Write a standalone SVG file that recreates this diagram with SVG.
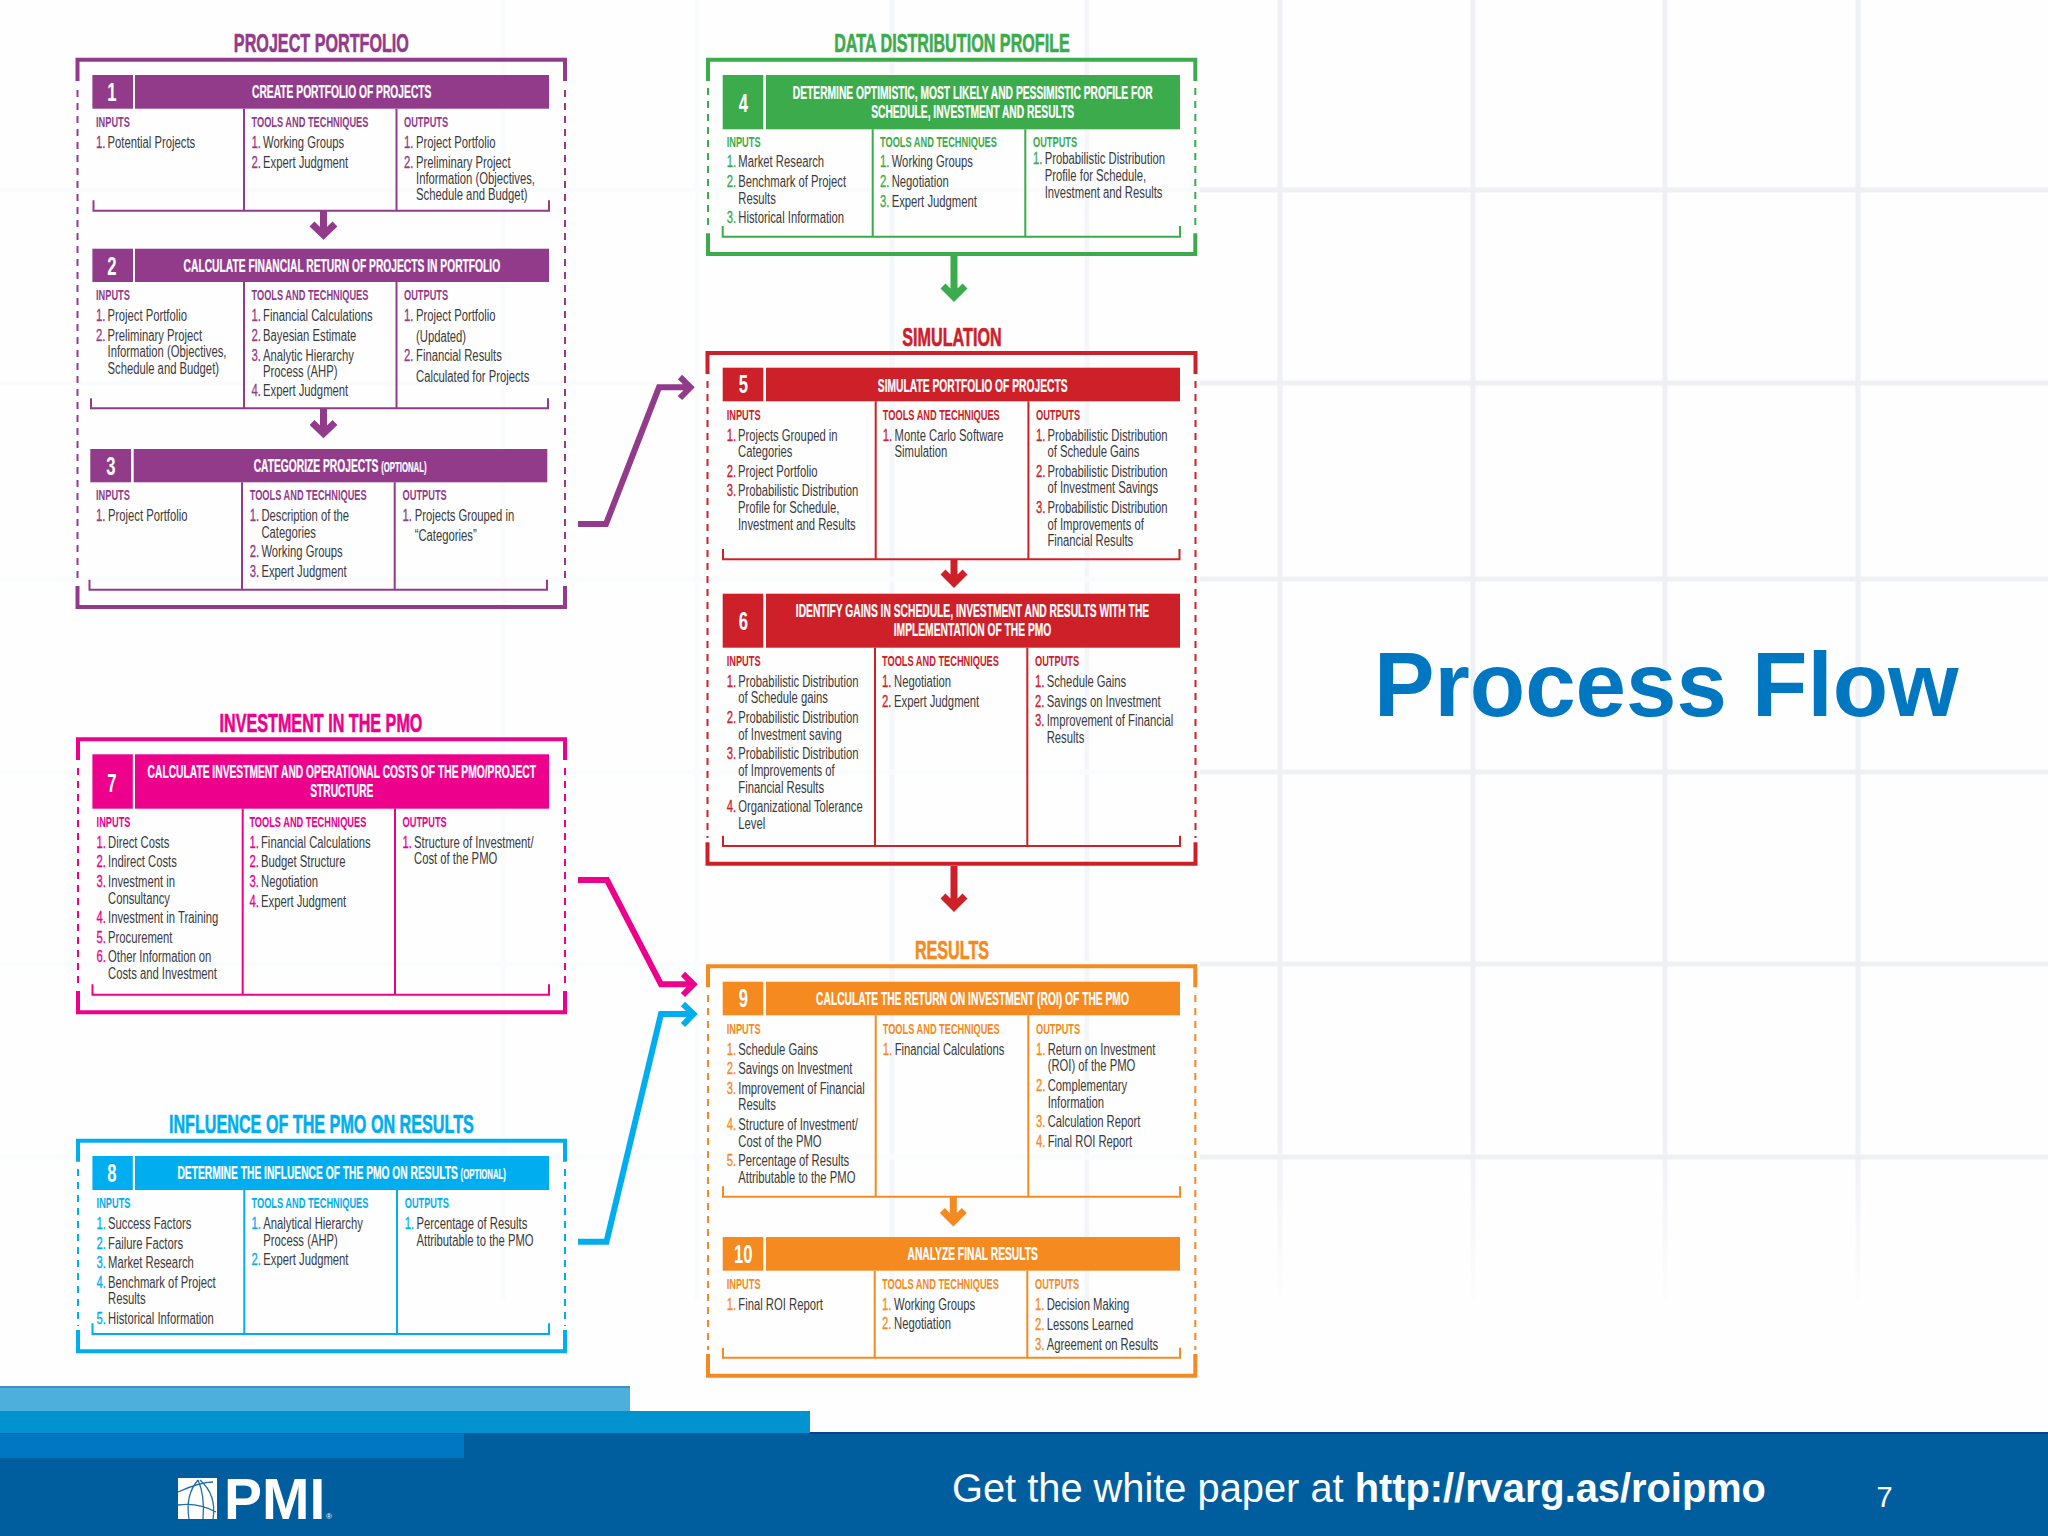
<svg xmlns="http://www.w3.org/2000/svg" width="2048" height="1536" viewBox="0 0 2048 1536">
<style>
text{font-family:"Liberation Sans",Arial,sans-serif;transform-box:fill-box}
.purple{--c:#923b8a}.green{--c:#3cab4b}.red{--c:#cd2029}.pink{--c:#ec008c}.blue{--c:#00aeef}.orange{--c:#f58a20}
.i,.n{font-size:16px;transform-origin:0 50%;transform:scaleX(.705)}
.i{fill:#3a3a3c}.n{fill:var(--c);stroke:var(--c);stroke-width:.3}
.h{font-size:15.4px;font-weight:700;fill:var(--c);transform-origin:0 50%;transform:translateY(-.8px) scaleX(.6)}
.t{font-size:18.5px;font-weight:700;fill:#fff;stroke:#fff;stroke-width:.25;text-anchor:middle;transform-origin:50% 50%;transform:scaleX(.555)}
.g{font-size:26px;font-weight:700;fill:#fff;text-anchor:middle;transform-origin:50% 50%;transform:scaleX(.64)}
.s{font-size:26.5px;font-weight:700;fill:var(--c);stroke:var(--c);stroke-width:.6;text-anchor:middle;transform-origin:50% 50%;transform:scaleX(.61)}
.f{fill:var(--c)}
.fr{fill:none;stroke:var(--c);stroke-width:4}
.da{fill:none;stroke:var(--c);stroke-width:2;stroke-dasharray:7 6}
.br{fill:none;stroke:var(--c);stroke-width:2}
.ar{fill:none;stroke:var(--c);stroke-width:7;stroke-miterlimit:6}
.cn{fill:none;stroke:var(--c);stroke-width:6;stroke-miterlimit:6}
.ft{fill:#fff}
</style>
<defs>
<linearGradient id="fade" gradientUnits="userSpaceOnUse" x1="0" y1="1130" x2="0" y2="1300"><stop offset="0" stop-color="#eef0f4"/><stop offset="1" stop-color="#fdfdfe"/></linearGradient>
</defs>
<rect width="2048" height="1536" fill="#fefefe"/>
<g id="background-grid" fill="none" stroke-width="5">
<path d="M503 0V1300M697 0V1300" stroke="#fafbfc"/>
<path d="M892 0V1300M1087 0V1300" stroke="#f4f6f9"/>
<path d="M1280 0V1300M1473 0V1300M1665 0V1300M1858 0V1300" stroke="url(#fade)"/>
<path d="M0 190H1200M0 383H1200M0 579H1200M0 772H1200M0 964H1200M0 1157H1200" stroke="#fafbfc"/>
<path d="M1200 190H2048M1200 383H2048M1200 579H2048M1200 772H2048M1200 964H2048M1200 1157H2048" stroke="#eef0f4"/>
</g>

<g id="footer">
<rect y="1387" width="630" height="24" fill="#4cafdc"/><rect y="1386" width="630" height="2" fill="#3f8fc4"/>
<rect y="1411" width="810" height="23" fill="#0093d0"/>
<rect y="1433" width="2048" height="103" fill="#005e9e"/><rect x="810" y="1432" width="1238" height="2" fill="#0b3f8f"/>
<rect y="1434" width="464" height="24" fill="#0077c3"/>
<g id="pmi-logo">
<rect x="178" y="1478" width="39" height="41" fill="#fff"/>
<path d="M178 1492Q200 1482 213 1482M178 1505Q198 1502 216 1512M189 1519Q185 1495 198 1480M203 1519Q205 1495 198 1480M213 1519Q217 1495 200 1480" fill="none" stroke="#1f6ea8" stroke-width="1.3"/>
<text class="ft" x="224" y="1519" font-size="57" font-weight="700">PMI</text>
<text class="ft" x="326" y="1519" font-size="8">®</text>
</g>
<text class="ft" x="952" y="1501.7" font-size="39.8">Get the white paper at <tspan font-weight="700">http://rvarg.as/roipmo</tspan></text>
<text class="ft" x="1884.5" y="1507" font-size="29" text-anchor="middle">7</text>
</g>

<text id="slide-title" x="1374" y="715.7" font-size="90.7" font-weight="700" fill="#0077c0">Process Flow</text>

<g id="connectors">
<g class="purple"><path class="ar" d="M323.5 210V235M312 224L323.5 235L335 224"/><path class="ar" d="M323.5 408V433.5M312 422.5L323.5 433.5L335 422.5"/><path class="cn" d="M578 524H606L659 387.3H690M680 377L690.5 387.3L680 398"/></g>
<g class="green"><path class="ar" d="M954 256V297M943 286L954 297L965 286"/></g>
<g class="red"><path class="ar" d="M954 559V583M943 572L954 583L965 572"/><path class="ar" d="M954 866V907M943 896L954 907L965 896"/></g>
<g class="orange"><path class="ar" d="M953.3 1197V1221.5M942.3 1210.5L953.3 1221.5L964.3 1210.5"/></g>
<g class="pink"><path class="cn" d="M578 880H607L661 984.3H693M683 974L693.5 984.3L683 995"/></g>
<g class="blue"><path class="cn" d="M578 1241.7H606.5L661 1014H693M683 1004L693.5 1014L683 1025"/></g>
</g>

<g id="frame-project-portfolio" class="purple">
<text class="s" x="321.4" y="52.3">PROJECT PORTFOLIO</text>
<path class="fr" d="M77.5 81V59.7H565V81M77.5 586V607H565V586"/><path class="da" d="M77.5 90V582M565 90V582"/>
</g>
<g id="node-1" class="purple">
<rect class="f" x="92.4" y="75" width="40.6" height="33.7"/><rect class="f" x="135" y="75" width="414" height="33.7"/>
<text class="g" x="112" y="101.3">1</text><text class="t" x="341.7" y="98.3">CREATE PORTFOLIO OF PROJECTS</text>
<path class="br" d="M93.5 200.3V210.7H549V200.3M244 108.7V210.7M396.5 108.7V210.7"/>
<text class="h" x="96" y="127.7">INPUTS</text><text class="h" x="251.5" y="127.7">TOOLS AND TECHNIQUES</text><text class="h" x="404" y="127.7">OUTPUTS</text>
<text class="n" x="96" y="148">1.</text><text class="i" x="107.5" y="148">Potential Projects</text>
<text class="n" x="251.5" y="148">1.</text><text class="i" x="263" y="148">Working Groups</text>
<text class="n" x="251.5" y="167.7">2.</text><text class="i" x="263" y="167.7">Expert Judgment</text>
<text class="n" x="404" y="148">1.</text><text class="i" x="416" y="148">Project Portfolio</text>
<text class="n" x="404" y="167.7">2.</text><text class="i" x="416" y="167.7">Preliminary Project</text>
<text class="i" x="416" y="184">Information (Objectives,</text><text class="i" x="416" y="200.3">Schedule and Budget)</text>
</g>
<g id="node-2" class="purple">
<rect class="f" x="92.4" y="248.7" width="40.6" height="33.3"/><rect class="f" x="135" y="248.7" width="414" height="33.3"/>
<text class="g" x="112" y="275">2</text><text class="t" x="341.9" y="271.7">CALCULATE FINANCIAL RETURN OF PROJECTS IN PORTFOLIO</text>
<path class="br" d="M91 398.3V408.3H548V398.3M244 282V408.3M396.5 282V408.3"/>
<text class="h" x="96" y="301">INPUTS</text><text class="h" x="251.5" y="301">TOOLS AND TECHNIQUES</text><text class="h" x="404" y="301">OUTPUTS</text>
<text class="n" x="96" y="321.3">1.</text><text class="i" x="107.5" y="321.3">Project Portfolio</text>
<text class="n" x="96" y="341">2.</text><text class="i" x="107.5" y="341">Preliminary Project</text>
<text class="i" x="107.5" y="357.3">Information (Objectives,</text><text class="i" x="107.5" y="374">Schedule and Budget)</text>
<text class="n" x="251.5" y="321.3">1.</text><text class="i" x="263" y="321.3">Financial Calculations</text>
<text class="n" x="251.5" y="341">2.</text><text class="i" x="263" y="341">Bayesian Estimate</text>
<text class="n" x="251.5" y="360.7">3.</text><text class="i" x="263" y="360.7">Analytic Hierarchy</text><text class="i" x="263" y="377">Process (AHP)</text>
<text class="n" x="251.5" y="396.3">4.</text><text class="i" x="263" y="396.3">Expert Judgment</text>
<text class="n" x="404" y="321.3">1.</text><text class="i" x="416" y="321.3">Project Portfolio</text><text class="i" x="416" y="342">(Updated)</text>
<text class="n" x="404" y="361.3">2.</text><text class="i" x="416" y="361.3">Financial Results</text><text class="i" x="416" y="381.7">Calculated for Projects</text>
</g>
<g id="node-3" class="purple">
<rect class="f" x="90.3" y="449" width="40.7" height="33.3"/><rect class="f" x="133.7" y="449" width="413.6" height="33.3"/>
<text class="g" x="111" y="474.7">3</text><text class="t" x="340" y="471.7">CATEGORIZE PROJECTS <tspan font-size="14">(OPTIONAL)</tspan></text>
<path class="br" d="M89.5 579.7V589.7H547V579.7M242 482.3V589.7M394.7 482.3V589.7"/>
<text class="h" x="96" y="501">INPUTS</text><text class="h" x="249.7" y="501">TOOLS AND TECHNIQUES</text><text class="h" x="402.6" y="501">OUTPUTS</text>
<text class="n" x="96" y="520.7">1.</text><text class="i" x="108" y="520.7">Project Portfolio</text>
<text class="n" x="249.7" y="520.7">1.</text><text class="i" x="261.4" y="520.7">Description of the</text><text class="i" x="261.4" y="537.7">Categories</text>
<text class="n" x="249.7" y="557">2.</text><text class="i" x="261.4" y="557">Working Groups</text>
<text class="n" x="249.7" y="576.7">3.</text><text class="i" x="261.4" y="576.7">Expert Judgment</text>
<text class="n" x="402.6" y="521">1.</text><text class="i" x="414.7" y="521">Projects Grouped in</text><text class="i" x="414.7" y="541.3">“Categories”</text>
</g>

<g id="frame-investment" class="pink">
<text class="s" x="321" y="731.7">INVESTMENT IN THE PMO</text>
<path class="fr" d="M78 760V739.3H565V760M78 991V1012.3H565V991"/><path class="da" d="M78 768V987M565 768V987"/>
</g>
<g id="node-7" class="pink">
<rect class="f" x="92.4" y="754.3" width="40.4" height="54.4"/><rect class="f" x="135" y="754.3" width="414" height="54.4"/>
<text class="g" x="111.8" y="791.7">7</text><text class="t" x="341.8" y="778.3">CALCULATE INVESTMENT AND OPERATIONAL COSTS OF THE PMO/PROJECT</text><text class="t" x="341.8" y="797.3">STRUCTURE</text>
<path class="br" d="M92.5 984.3V994.7H549V984.3M242.7 808.7V994.7M395 808.7V994.7"/>
<text class="h" x="96.6" y="828">INPUTS</text><text class="h" x="249.4" y="828">TOOLS AND TECHNIQUES</text><text class="h" x="402.6" y="828">OUTPUTS</text>
<text class="n" x="96.6" y="847.7">1.</text><text class="i" x="108" y="847.7">Direct Costs</text>
<text class="n" x="96.6" y="867.3">2.</text><text class="i" x="108" y="867.3">Indirect Costs</text>
<text class="n" x="96.6" y="886.7">3.</text><text class="i" x="108" y="886.7">Investment in</text><text class="i" x="108" y="903.7">Consultancy</text>
<text class="n" x="96.6" y="923.3">4.</text><text class="i" x="108" y="923.3">Investment in Training</text>
<text class="n" x="96.6" y="942.7">5.</text><text class="i" x="108" y="942.7">Procurement</text>
<text class="n" x="96.6" y="962">6.</text><text class="i" x="108" y="962">Other Information on</text><text class="i" x="108" y="979">Costs and Investment</text>
<text class="n" x="249.4" y="847.7">1.</text><text class="i" x="261" y="847.7">Financial Calculations</text>
<text class="n" x="249.4" y="867.3">2.</text><text class="i" x="261" y="867.3">Budget Structure</text>
<text class="n" x="249.4" y="886.7">3.</text><text class="i" x="261" y="886.7">Negotiation</text>
<text class="n" x="249.4" y="906.7">4.</text><text class="i" x="261" y="906.7">Expert Judgment</text>
<text class="n" x="402.6" y="847.7">1.</text><text class="i" x="414" y="847.7">Structure of Investment/</text><text class="i" x="414" y="864.3">Cost of the PMO</text>
</g>

<g id="frame-influence" class="blue">
<text class="s" x="321.4" y="1133.3">INFLUENCE OF THE PMO ON RESULTS</text>
<path class="fr" d="M78 1161.7V1140.7H565V1161.7M78 1330V1351.3H565V1330"/><path class="da" d="M78 1169V1326M565 1169V1326"/>
</g>
<g id="node-8" class="blue">
<rect class="f" x="92.4" y="1156" width="40.4" height="34"/><rect class="f" x="135" y="1156" width="414" height="34"/>
<text class="g" x="112" y="1182">8</text><text class="t" x="341.6" y="1179">DETERMINE THE INFLUENCE OF THE PMO ON RESULTS <tspan font-size="14">(OPTIONAL)</tspan></text>
<path class="br" d="M92.5 1323.3V1334H549V1323.3M244.3 1190V1334M397 1190V1334"/>
<text class="h" x="96.6" y="1209">INPUTS</text><text class="h" x="251.5" y="1209">TOOLS AND TECHNIQUES</text><text class="h" x="404.7" y="1209">OUTPUTS</text>
<text class="n" x="96.6" y="1229.3">1.</text><text class="i" x="108" y="1229.3">Success Factors</text>
<text class="n" x="96.6" y="1248.7">2.</text><text class="i" x="108" y="1248.7">Failure Factors</text>
<text class="n" x="96.6" y="1268">3.</text><text class="i" x="108" y="1268">Market Research</text>
<text class="n" x="96.6" y="1288">4.</text><text class="i" x="108" y="1288">Benchmark of Project</text><text class="i" x="108" y="1304.3">Results</text>
<text class="n" x="96.6" y="1324">5.</text><text class="i" x="108" y="1324">Historical Information</text>
<text class="n" x="251.5" y="1229.3">1.</text><text class="i" x="263.3" y="1229.3">Analytical Hierarchy</text><text class="i" x="263.3" y="1245.7">Process (AHP)</text>
<text class="n" x="251.5" y="1265.3">2.</text><text class="i" x="263.3" y="1265.3">Expert Judgment</text>
<text class="n" x="404.7" y="1229.3">1.</text><text class="i" x="416.5" y="1229.3">Percentage of Results</text><text class="i" x="416.5" y="1245.7">Attributable to the PMO</text>
</g>

<g id="frame-data-distribution" class="green">
<text class="s" x="952" y="52.3">DATA DISTRIBUTION PROFILE</text>
<path class="fr" d="M708 81V59.7H1195.3V81M708 233.3V254H1195.3V233.3"/><path class="da" d="M708 88V230M1195.3 88V230"/>
</g>
<g id="node-4" class="green">
<rect class="f" x="722.7" y="75" width="40.6" height="54.3"/><rect class="f" x="766" y="75" width="414" height="54.3"/>
<text class="g" x="743.3" y="111.7">4</text><text class="t" x="972.7" y="99.3">DETERMINE OPTIMISTIC, MOST LIKELY AND PESSIMISTIC PROFILE FOR</text><text class="t" x="972.7" y="118.3">SCHEDULE, INVESTMENT AND RESULTS</text>
<path class="br" d="M722.7 226V236.7H1180V226M872.7 129.3V236.7M1025.3 129.3V236.7"/>
<text class="h" x="726.7" y="148.3">INPUTS</text><text class="h" x="880" y="148.3">TOOLS AND TECHNIQUES</text><text class="h" x="1033" y="148.3">OUTPUTS</text>
<text class="n" x="726.7" y="167.3">1.</text><text class="i" x="738.3" y="167.3">Market Research</text>
<text class="n" x="726.7" y="187.3">2.</text><text class="i" x="738.3" y="187.3">Benchmark of Project</text><text class="i" x="738.3" y="204">Results</text>
<text class="n" x="726.7" y="223.3">3.</text><text class="i" x="738.3" y="223.3">Historical Information</text>
<text class="n" x="880" y="167.3">1.</text><text class="i" x="891.7" y="167.3">Working Groups</text>
<text class="n" x="880" y="187.3">2.</text><text class="i" x="891.7" y="187.3">Negotiation</text>
<text class="n" x="880" y="207">3.</text><text class="i" x="891.7" y="207">Expert Judgment</text>
<text class="n" x="1033" y="164">1.</text><text class="i" x="1044.7" y="164">Probabilistic Distribution</text><text class="i" x="1044.7" y="181">Profile for Schedule,</text><text class="i" x="1044.7" y="198">Investment and Results</text>
</g>

<g id="frame-simulation" class="red">
<text class="s" x="952" y="346">SIMULATION</text>
<path class="fr" d="M707.5 374V353H1195.5V374M707.5 842.3V863.7H1195.5V842.3"/><path class="da" d="M707.5 381V838M1195.5 381V838"/>
</g>
<g id="node-5" class="red">
<rect class="f" x="722.7" y="367.7" width="40.6" height="33.6"/><rect class="f" x="766" y="367.7" width="414" height="33.6"/>
<text class="g" x="743.3" y="393.3">5</text><text class="t" x="972.7" y="391.7">SIMULATE PORTFOLIO OF PROJECTS</text>
<path class="br" d="M723 549V559.3H1179.5V549M875.7 401.3V559.3M1028.4 401.3V559.3"/>
<text class="h" x="726.7" y="421">INPUTS</text><text class="h" x="882.8" y="421">TOOLS AND TECHNIQUES</text><text class="h" x="1036" y="421">OUTPUTS</text>
<text class="n" x="726.7" y="440.7">1.</text><text class="i" x="738" y="440.7">Projects Grouped in</text><text class="i" x="738" y="457">Categories</text>
<text class="n" x="726.7" y="477">2.</text><text class="i" x="738" y="477">Project Portfolio</text>
<text class="n" x="726.7" y="496.3">3.</text><text class="i" x="738" y="496.3">Probabilistic Distribution</text><text class="i" x="738" y="513">Profile for Schedule,</text><text class="i" x="738" y="529.7">Investment and Results</text>
<text class="n" x="882.8" y="440.7">1.</text><text class="i" x="894.6" y="440.7">Monte Carlo Software</text><text class="i" x="894.6" y="457">Simulation</text>
<text class="n" x="1036" y="440.7">1.</text><text class="i" x="1047.4" y="440.7">Probabilistic Distribution</text><text class="i" x="1047.4" y="457">of Schedule Gains</text>
<text class="n" x="1036" y="477">2.</text><text class="i" x="1047.4" y="477">Probabilistic Distribution</text><text class="i" x="1047.4" y="493.3">of Investment Savings</text>
<text class="n" x="1036" y="513">3.</text><text class="i" x="1047.4" y="513">Probabilistic Distribution</text><text class="i" x="1047.4" y="529.7">of Improvements of</text><text class="i" x="1047.4" y="546.3">Financial Results</text>
</g>
<g id="node-6" class="red">
<rect class="f" x="722.7" y="593.7" width="40.6" height="54"/><rect class="f" x="766" y="593.7" width="414" height="54"/>
<text class="g" x="743.3" y="630">6</text><text class="t" x="972.5" y="617.3">IDENTIFY GAINS IN SCHEDULE, INVESTMENT AND RESULTS WITH THE</text><text class="t" x="972.5" y="636">IMPLEMENTATION OF THE PMO</text>
<path class="br" d="M723 835.7V846H1180V835.7M875 647.7V846M1027.3 647.7V846"/>
<text class="h" x="726.7" y="666.7">INPUTS</text><text class="h" x="882" y="666.7">TOOLS AND TECHNIQUES</text><text class="h" x="1035" y="666.7">OUTPUTS</text>
<text class="n" x="726.7" y="686.7">1.</text><text class="i" x="738.3" y="686.7">Probabilistic Distribution</text><text class="i" x="738.3" y="703.3">of Schedule gains</text>
<text class="n" x="726.7" y="723">2.</text><text class="i" x="738.3" y="723">Probabilistic Distribution</text><text class="i" x="738.3" y="739.7">of Investment saving</text>
<text class="n" x="726.7" y="759.3">3.</text><text class="i" x="738.3" y="759.3">Probabilistic Distribution</text><text class="i" x="738.3" y="776">of Improvements of</text><text class="i" x="738.3" y="792.7">Financial Results</text>
<text class="n" x="726.7" y="812.3">4.</text><text class="i" x="738.3" y="812.3">Organizational Tolerance</text><text class="i" x="738.3" y="828.7">Level</text>
<text class="n" x="882" y="686.7">1.</text><text class="i" x="894" y="686.7">Negotiation</text>
<text class="n" x="882" y="706.7">2.</text><text class="i" x="894" y="706.7">Expert Judgment</text>
<text class="n" x="1035" y="686.7">1.</text><text class="i" x="1046.7" y="686.7">Schedule Gains</text>
<text class="n" x="1035" y="706.7">2.</text><text class="i" x="1046.7" y="706.7">Savings on Investment</text>
<text class="n" x="1035" y="726">3.</text><text class="i" x="1046.7" y="726">Improvement of Financial</text><text class="i" x="1046.7" y="742.7">Results</text>
</g>

<g id="frame-results" class="orange">
<text class="s" x="952" y="959">RESULTS</text>
<path class="fr" d="M708 987.3V966.3H1195.3V987.3M708 1354V1375.7H1195.3V1354"/><path class="da" d="M708 995V1350M1195.3 995V1350"/>
</g>
<g id="node-9" class="orange">
<rect class="f" x="722.7" y="981.7" width="40.6" height="33.6"/><rect class="f" x="766" y="981.7" width="414" height="33.6"/>
<text class="g" x="743.3" y="1007.3">9</text><text class="t" x="972.5" y="1005.3">CALCULATE THE RETURN ON INVESTMENT (ROI) OF THE PMO</text>
<path class="br" d="M723 1186.3V1196.7H1180V1186.3M875.7 1015.3V1196.7M1028.3 1015.3V1196.7"/>
<text class="h" x="726.7" y="1035">INPUTS</text><text class="h" x="882.7" y="1035">TOOLS AND TECHNIQUES</text><text class="h" x="1036" y="1035">OUTPUTS</text>
<text class="n" x="726.7" y="1054.7">1.</text><text class="i" x="738.3" y="1054.7">Schedule Gains</text>
<text class="n" x="726.7" y="1074">2.</text><text class="i" x="738.3" y="1074">Savings on Investment</text>
<text class="n" x="726.7" y="1093.7">3.</text><text class="i" x="738.3" y="1093.7">Improvement of Financial</text><text class="i" x="738.3" y="1110.3">Results</text>
<text class="n" x="726.7" y="1130">4.</text><text class="i" x="738.3" y="1130">Structure of Investment/</text><text class="i" x="738.3" y="1146.7">Cost of the PMO</text>
<text class="n" x="726.7" y="1166.3">5.</text><text class="i" x="738.3" y="1166.3">Percentage of Results</text><text class="i" x="738.3" y="1183">Attributable to the PMO</text>
<text class="n" x="882.7" y="1054.7">1.</text><text class="i" x="894.7" y="1054.7">Financial Calculations</text>
<text class="n" x="1036" y="1054.7">1.</text><text class="i" x="1047.7" y="1054.7">Return on Investment</text><text class="i" x="1047.7" y="1071">(ROI) of the PMO</text>
<text class="n" x="1036" y="1091">2.</text><text class="i" x="1047.7" y="1091">Complementary</text><text class="i" x="1047.7" y="1107.7">Information</text>
<text class="n" x="1036" y="1127">3.</text><text class="i" x="1047.7" y="1127">Calculation Report</text>
<text class="n" x="1036" y="1146.7">4.</text><text class="i" x="1047.7" y="1146.7">Final ROI Report</text>
</g>
<g id="node-10" class="orange">
<rect class="f" x="722.7" y="1237" width="40.6" height="33.7"/><rect class="f" x="766" y="1237" width="414" height="33.7"/>
<text class="g" x="743.3" y="1263.3">10</text><text class="t" x="972.7" y="1260">ANALYZE FINAL RESULTS</text>
<path class="br" d="M723 1347.7V1357.7H1180V1347.7M874.7 1270.7V1357.7M1027.3 1270.7V1357.7"/>
<text class="h" x="726.7" y="1290">INPUTS</text><text class="h" x="882" y="1290">TOOLS AND TECHNIQUES</text><text class="h" x="1035" y="1290">OUTPUTS</text>
<text class="n" x="726.7" y="1310">1.</text><text class="i" x="738.3" y="1310">Final ROI Report</text>
<text class="n" x="882" y="1310">1.</text><text class="i" x="894" y="1310">Working Groups</text>
<text class="n" x="882" y="1329.3">2.</text><text class="i" x="894" y="1329.3">Negotiation</text>
<text class="n" x="1035" y="1310">1.</text><text class="i" x="1046.7" y="1310">Decision Making</text>
<text class="n" x="1035" y="1330">2.</text><text class="i" x="1046.7" y="1330">Lessons Learned</text>
<text class="n" x="1035" y="1350">3.</text><text class="i" x="1046.7" y="1350">Agreement on Results</text>
</g>
</svg>
